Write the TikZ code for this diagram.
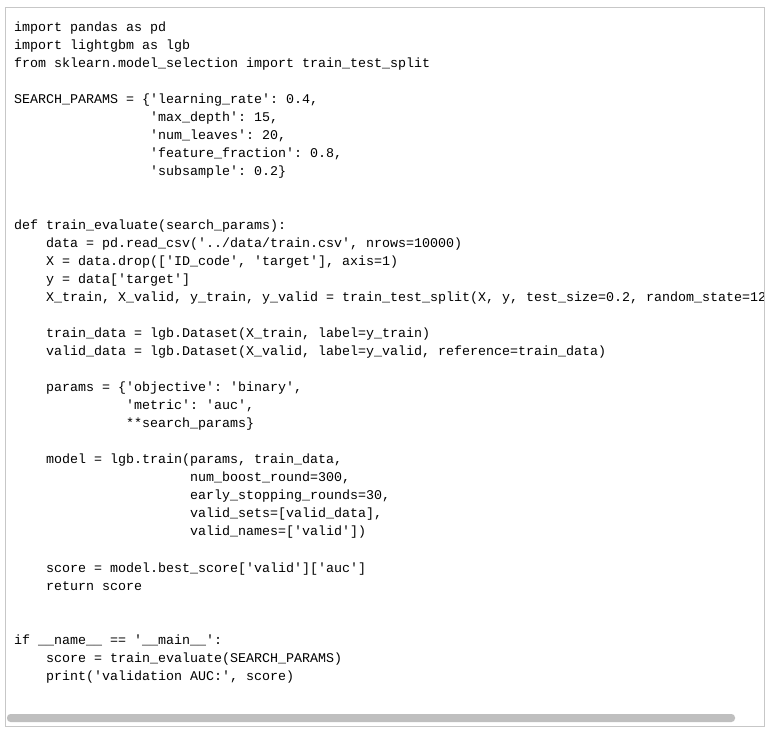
\documentclass[tikz,border=0pt]{standalone}
\usepackage{fontspec}
\setmonofont{Liberation Mono}
\begin{document}
\begin{tikzpicture}[x=1pt,y=1pt,
  codeline/.style={anchor=base west,inner sep=0pt,font=\fontsize{13.33}{16}\ttfamily,text=black}]
\useasboundingbox (0,0) rectangle (770,736);
\fill[white] (0,0) rectangle (770,736);
\draw[draw=black!22,line width=1pt] (5,10) rectangle (764,728);
\fill[black!25,rounded corners=3.5pt] (7,14) rectangle (735,22);
\begin{scope}
\clip (6,24) rectangle (763,727);
\newcommand{\cl}[3]{\node[codeline] (l#1) at ({14+8*#2},{736-32-18*(#1-1)}) {#3};}
\cl{1}{0}{import pandas as pd}
\cl{2}{0}{import lightgbm as lgb}
\cl{3}{0}{from sklearn.model\_selection import train\_test\_split}
\cl{5}{0}{SEARCH\_PARAMS = \{'learning\_rate': 0.4,}
\cl{6}{17}{'max\_depth': 15,}
\cl{7}{17}{'num\_leaves': 20,}
\cl{8}{17}{'feature\_fraction': 0.8,}
\cl{9}{17}{'subsample': 0.2\}}
\cl{12}{0}{def train\_evaluate(search\_params):}
\cl{13}{4}{data = pd.read\_csv('../data/train.csv', nrows=10000)}
\cl{14}{4}{X = data.drop(['ID\_code', 'target'], axis=1)}
\cl{15}{4}{y = data['target']}
\cl{16}{4}{X\_train, X\_valid, y\_train, y\_valid = train\_test\_split(X, y, test\_size=0.2, random\_state=1234)}
\cl{18}{4}{train\_data = lgb.Dataset(X\_train, label=y\_train)}
\cl{19}{4}{valid\_data = lgb.Dataset(X\_valid, label=y\_valid, reference=train\_data)}
\cl{21}{4}{params = \{'objective': 'binary',}
\cl{22}{14}{'metric': 'auc',}
\cl{23}{14}{**search\_params\}}
\cl{25}{4}{model = lgb.train(params, train\_data,}
\cl{26}{22}{num\_boost\_round=300,}
\cl{27}{22}{early\_stopping\_rounds=30,}
\cl{28}{22}{valid\_sets=[valid\_data],}
\cl{29}{22}{valid\_names=['valid'])}
\cl{31}{4}{score = model.best\_score['valid']['auc']}
\cl{32}{4}{return score}
\cl{35}{0}{if \_\_name\_\_ == '\_\_main\_\_':}
\cl{36}{4}{score = train\_evaluate(SEARCH\_PARAMS)}
\cl{37}{4}{print('validation AUC:', score)}
\end{scope}
\end{tikzpicture}
\end{document}
